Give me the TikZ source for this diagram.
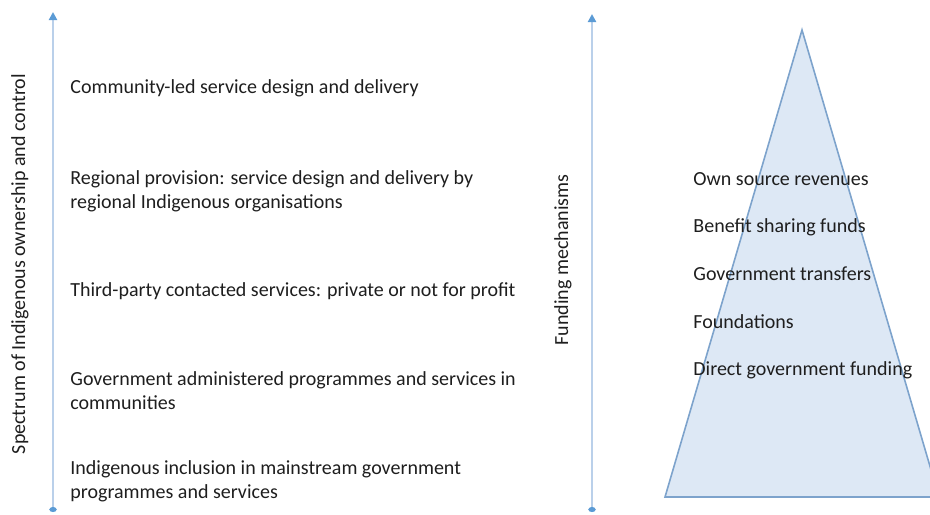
\documentclass[tikz,border=0pt]{standalone}
\usepackage{fontspec}
\setmainfont{Carlito}
\usepackage{xcolor}
\usetikzlibrary{arrows.meta}
\definecolor{axisblue}{RGB}{186,208,234}
\definecolor{tipblue}{RGB}{91,155,213}
\definecolor{pyrfill}{RGB}{221,232,245}
\definecolor{pyrline}{RGB}{125,163,204}
\definecolor{txt}{RGB}{30,30,30}

\tikzset{
  item/.style={anchor=west, inner sep=0pt, text=txt, font=\fontsize{10}{12}\selectfont, align=left},
  axis/.style={draw=axisblue, line width=1.2pt,
    {Circle[length=2.5pt,width=3.5pt,color=tipblue]}-{Triangle[length=4pt,width=4pt,color=tipblue]}},
  axislabel/.style={rotate=90, inner sep=0pt, text=txt, font=\fontsize{10}{12}\selectfont}
}

\begin{document}
\begin{tikzpicture}[x=0.5pt,y=-0.5pt]
\useasboundingbox (0,0) rectangle (930,514);
\begin{scope}
\clip (0,0) rectangle (930,514);
% funding pyramid
\filldraw [fill=pyrfill, draw=pyrline, line width=0.8pt] (802,30) -- (665,497) -- (939,497) -- cycle;
\end{scope}

% left axis
\coordinate (lbot) at (53,512);
\coordinate (ltop) at (53,12);
\draw [axis] (lbot) -- (ltop);
\node (spectrum) [axislabel] at (20,264) {Spectrum of Indigenous ownership and control};

\node (community) [item] at (70,88) {Community-led service design and delivery};
\node (regional) [item] at (70,191) {Regional provision: service design and delivery by\\regional Indigenous organisations};
\node (thirdparty) [item] at (70,291) {Third-party contacted services: private or not for profit};
\node (government) [item] at (70,391) {Government administered programmes and services in\\communities};
\node (inclusion) [item] at (70,481) {Indigenous inclusion in mainstream government\\programmes and services};

% right axis
\coordinate (rbot) at (592,512);
\coordinate (rtop) at (592,14);
\draw [axis] (rbot) -- (rtop);
\node (funding) [axislabel] at (563,260) {Funding mechanisms};

\node (ownsource) [item] at (693,179) {Own source revenues};
\node (benefit) [item] at (693,227) {Benefit sharing funds};
\node (transfers) [item] at (693,274) {Government transfers};
\node (foundations) [item] at (693,322) {Foundations};
\node (direct) [item] at (693,370) {Direct government funding};
\end{tikzpicture}
\end{document}
